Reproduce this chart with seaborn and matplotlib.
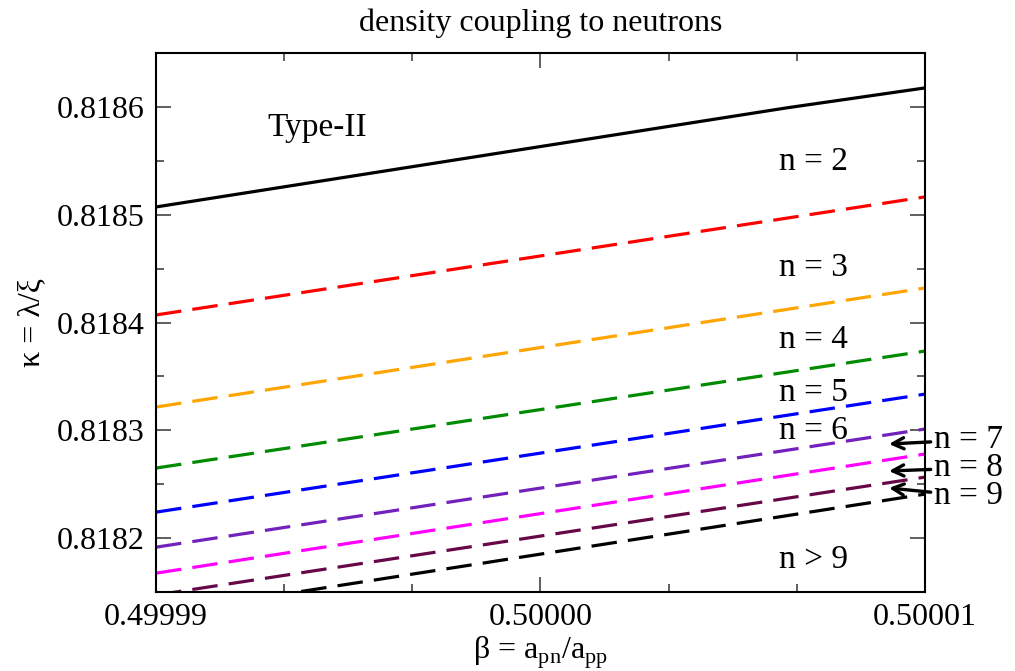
import numpy as np
import pandas as pd
import seaborn as sns
import matplotlib
matplotlib.use('Agg')
import matplotlib.pyplot as plt
from matplotlib.ticker import AutoMinorLocator, FormatStrFormatter

# endpoints (beta, kappa)
beta_ends = [0.49999, 0.50001]
names = ['n = 2', 'n = 3', 'n = 4', 'n = 5', 'n = 6', 'n = 7', 'n = 8',
         'n = 9', 'n > 9']
kappa_left = [0.8184070, 0.8183216, 0.8182650, 0.8182241,
              0.8181916, 0.8181675, 0.8181472, 0.8181295]
kappa_right = [0.8185165, 0.8184320, 0.8183735, 0.8183336,
               0.8183012, 0.8182780, 0.8182566, 0.8182408]
# Type-II has a slight bend
typeII_beta = [0.49999, 0.5000064, 0.50001]
typeII_kappa = [0.8185072, 0.8185991, 0.8186176]

rows = []
for b, k in zip(typeII_beta, typeII_kappa):
    rows.append(('Type-II', b, k))
for name, kl, kr in zip(names, kappa_left, kappa_right):
    rows.append((name, beta_ends[0], kl))
    rows.append((name, beta_ends[1], kr))
df = pd.DataFrame(rows, columns=['curve', 'beta', 'kappa'])

sns.set_style('ticks')
plt.rcParams['font.family'] = ['Liberation Serif', 'DejaVu Serif']
plt.rcParams['mathtext.fontset'] = 'custom'
plt.rcParams['mathtext.rm'] = 'Liberation Serif'
plt.rcParams['text.color'] = 'black'
plt.rcParams['axes.labelcolor'] = 'black'
plt.rcParams['xtick.color'] = 'black'
plt.rcParams['ytick.color'] = 'black'
plt.rcParams['axes.edgecolor'] = 'black'

fig = plt.figure(figsize=(10.15, 6.71), dpi=100)
ax = fig.add_axes([0.1537, 0.1177, 0.7576, 0.8033])

pal = {'Type-II': 'black', 'n = 2': '#ff0000', 'n = 3': '#ffa500',
       'n = 4': '#008b00', 'n = 5': '#0000ff', 'n = 6': '#7221bc',
       'n = 7': '#ff00ff', 'n = 8': '#670748', 'n = 9': 'black'}
dsh = {k: (8, 3.5) for k in pal}
dsh['Type-II'] = ''

sns.lineplot(data=df, x='beta', y='kappa', hue='curve',
             style='curve', palette=pal, dashes=dsh, linewidth=2.3,
             legend=False, ax=ax, sort=False, estimator=None)

ax.set_xlim(0.49999, 0.50001)
ax.set_ylim(0.81815, 0.81865)
ax.set_xticks([0.49999, 0.50000, 0.50001])
ax.set_yticks([0.8182, 0.8183, 0.8184, 0.8185, 0.8186])
ax.xaxis.set_major_formatter(FormatStrFormatter('%.5f'))
ax.yaxis.set_major_formatter(FormatStrFormatter('%.4f'))
ax.xaxis.set_minor_locator(AutoMinorLocator(3))
ax.yaxis.set_minor_locator(AutoMinorLocator(2))
ax.tick_params(which='both', direction='in', top=True, right=True,
               labelsize=23, color='#444444', labelcolor='black')
ax.tick_params(which='major', length=11, width=1.2, pad=8)
ax.tick_params(which='minor', length=6, width=1.2)
for s in ax.spines.values():
    s.set_linewidth(1.5)

ax.set_xlabel(r'$\mathrm{\beta}$ = a$_{\mathrm{pn}}$/a$_{\mathrm{pp}}$',
              fontsize=23, labelpad=2)
ax.set_ylabel('κ = λ/ξ', fontsize=23, labelpad=8)
ax.set_title('density coupling to neutrons', fontsize=23, pad=16)

fs = 24
ax.text(0.4999942, 0.818581, 'Type-II', fontsize=fs, ha='center', va='center')
lab_x = 0.5000071
ax.text(lab_x, 0.818549, 'n = 2', fontsize=fs, ha='center', va='center')
ax.text(lab_x, 0.818451, 'n = 3', fontsize=fs, ha='center', va='center')
ax.text(lab_x, 0.818384, 'n = 4', fontsize=fs, ha='center', va='center')
ax.text(lab_x, 0.818335, 'n = 5', fontsize=fs, ha='center', va='center')
ax.text(lab_x, 0.818300, 'n = 6', fontsize=fs, ha='center', va='center')
ax.text(lab_x, 0.8181796, 'n > 9', fontsize=fs, ha='center', va='center')

arrows = [('n = 7', 440, 444), ('n = 8', 468, 471), ('n = 9', 496, 488)]
for lab, ytxt, ytip in arrows:
    ax.annotate(lab, xy=(889 / 1015, 1 - ytip / 671), xycoords='figure fraction',
                xytext=(934 / 1015, 1 - ytxt / 671), textcoords='figure fraction',
                fontsize=fs, va='center', ha='left', annotation_clip=False,
                arrowprops=dict(arrowstyle='->', lw=2.4, color='black',
                                shrinkA=0, shrinkB=0, mutation_scale=20))

fig.savefig('out.png', dpi=100)
